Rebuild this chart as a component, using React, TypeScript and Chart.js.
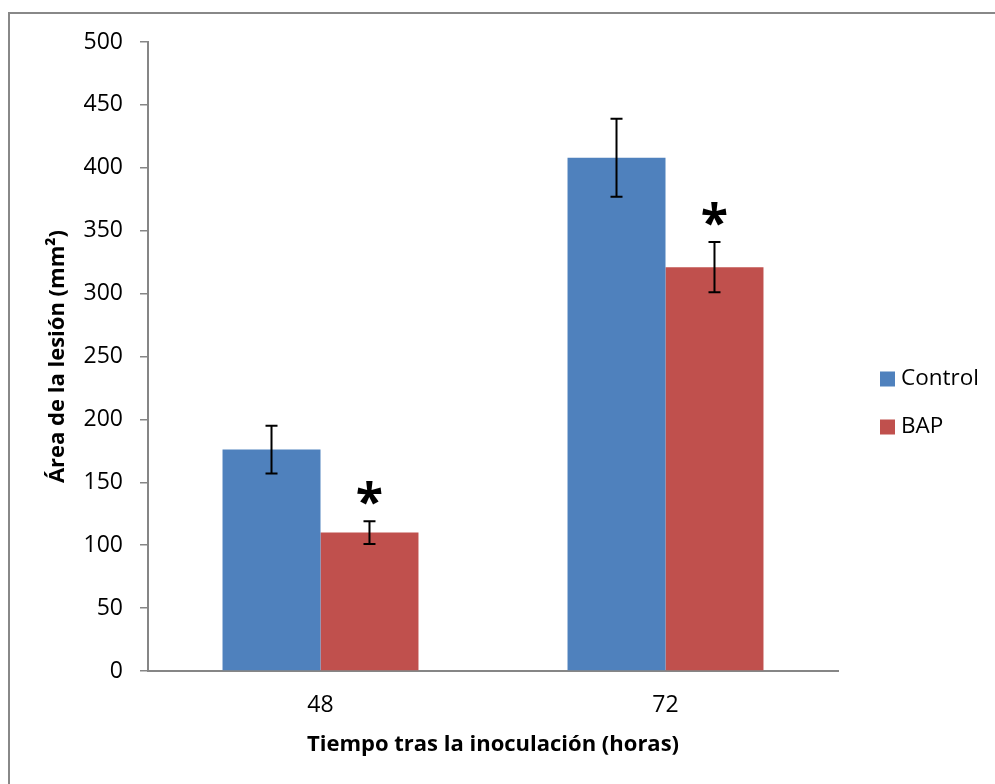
import React, { useEffect, useRef } from "react";
import { Chart, registerables } from "chart.js";

Chart.register(...registerables);

const categories = ["48", "72"];
const seriesNames = ["Control", "BAP"];
const controlValues = [176, 408];
const bapValues = [110, 321];
const controlErrors = [19, 31];
const bapErrors = [9, 20];
const significant = [false, true]; // per series: asterisk on BAP
const yTicks = [0, 50, 100, 150, 200, 250, 300, 350, 400, 450, 500];
const yTitle = "Área de la lesión (mm²)";
const xTitle = "Tiempo tras la inoculación (horas)";

const FONT = "'Open Sans', Lato, sans-serif";
const BLUE = "#4F81BD";
const RED = "#C0504D";
const AXIS = "#868686";

const errorBarsPlugin = {
  id: "errorBars",
  afterDatasetsDraw(chart: any) {
    const ctx = chart.ctx;
    const yScale = chart.scales.y;
    const errs = [controlErrors, bapErrors];
    chart.data.datasets.forEach((ds: any, di: number) => {
      const meta = chart.getDatasetMeta(di);
      meta.data.forEach((bar: any, i: number) => {
        const v = ds.data[i];
        const e = errs[di][i];
        const x = bar.x;
        const yTop = yScale.getPixelForValue(v + e);
        const yBot = yScale.getPixelForValue(v - e);
        ctx.save();
        ctx.strokeStyle = "#000";
        ctx.lineWidth = 2;
        ctx.beginPath();
        ctx.moveTo(x, yTop);
        ctx.lineTo(x, yBot);
        ctx.moveTo(x - 6, yTop);
        ctx.lineTo(x + 6, yTop);
        ctx.moveTo(x - 6, yBot);
        ctx.lineTo(x + 6, yBot);
        ctx.stroke();
        if (significant[di]) {
          ctx.fillStyle = "#000";
          ctx.font = `bold 50px ${FONT}`;
          ctx.textAlign = "center";
          ctx.textBaseline = "alphabetic";
          ctx.fillText("*", x, yTop - 2);
        }
        ctx.restore();
      });
    });
  },
};

const legendPlugin = {
  id: "customLegend",
  afterDraw(chart: any) {
    const ctx = chart.ctx;
    const colors = [BLUE, RED];
    const startY = 379;
    seriesNames.forEach((name, i) => {
      const cy = startY + i * 48;
      ctx.save();
      ctx.fillStyle = colors[i];
      ctx.fillRect(880, cy - 7.5, 15, 15);
      ctx.fillStyle = "#000";
      ctx.font = `22.5px ${FONT}`;
      ctx.textAlign = "left";
      ctx.textBaseline = "middle";
      ctx.fillText(name, 901, cy);
      ctx.restore();
    });
  },
};

export default function App() {
  const ref = useRef<HTMLCanvasElement>(null);
  useEffect(() => {
    if (!ref.current) return;
    const chart = new Chart(ref.current, {
      type: "bar",
      data: {
        labels: categories,
        datasets: [
          {
            label: seriesNames[0],
            data: controlValues,
            backgroundColor: BLUE,
            barPercentage: 1,
            categoryPercentage: 0.568,
          },
          {
            label: seriesNames[1],
            data: bapValues,
            backgroundColor: RED,
            barPercentage: 1,
            categoryPercentage: 0.568,
          },
        ],
      },
      options: {
        responsive: false,
        animation: false,
        layout: { padding: { left: 0, right: 157, top: 42, bottom: 0 } },
        plugins: {
          legend: { display: false },
          tooltip: { enabled: false },
        },
        scales: {
          x: {
            grid: { display: false },
            border: { display: true, color: AXIS, width: 2 },
            ticks: { color: "#000", font: { family: FONT, size: 23 }, padding: 13 },
            title: {
              display: true,
              text: xTitle,
              color: "#000",
              font: { family: FONT, size: 22, weight: "bold" },
              padding: { top: 0, bottom: 26 },
            },
            afterFit(scale: any) {
              scale.height = 113;
            },
          },
          y: {
            min: 0,
            max: 500,
            afterBuildTicks(scale: any) {
              scale.ticks = yTicks.map((v) => ({ value: v }));
            },
            grid: {
              drawOnChartArea: false,
              drawTicks: true,
              tickLength: 8,
              color: AXIS,
              lineWidth: 1.5,
            },
            border: { display: true, color: AXIS, width: 2 },
            ticks: { color: "#000", font: { family: FONT, size: 23 }, padding: 17 },
            title: {
              display: true,
              text: yTitle,
              color: "#000",
              font: { family: FONT, size: 22, weight: "bold" },
              padding: { top: 45, bottom: 0 },
            },
            afterFit(scale: any) {
              scale.width = 148;
            },
          },
        },
      },
      plugins: [errorBarsPlugin, legendPlugin],
    });
    return () => chart.destroy();
  }, []);
  return (
    <div style={{ position: "absolute", left: 0, top: 0, width: 995, height: 784, overflow: "hidden", background: "#fff" }}>
      <div
        style={{
          position: "absolute",
          left: 8,
          top: 12,
          width: 1000,
          height: 800,
          border: "2px solid #888",
          boxSizing: "border-box",
        }}
      />
      <canvas ref={ref} width={995} height={784} style={{ position: "absolute", left: 0, top: 0, width: 995, height: 784 }} />
    </div>
  );
}
